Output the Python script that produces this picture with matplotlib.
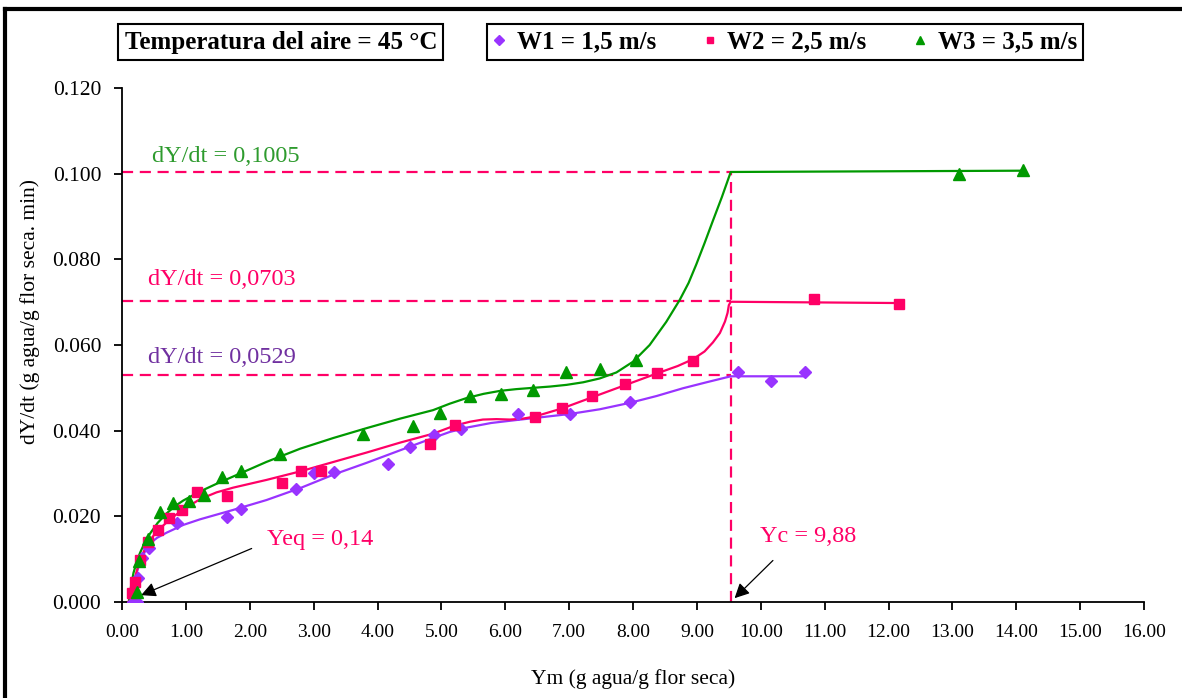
import matplotlib.pyplot as plt
from matplotlib.lines import Line2D
import numpy as np

plt.rcParams['font.family'] = ['Liberation Serif', 'DejaVu Serif']

# measured points (Ym, dY/dt)
w1_x = [0.17, 0.23, 0.25, 0.31, 0.42, 0.86, 1.65, 1.87, 2.72, 3.01, 3.32, 4.17, 4.51, 4.88, 5.30,
        6.20, 7.01, 7.95, 9.64, 10.16, 10.69]
w1_y = [0.000, 0.000, 0.0056, 0.0103, 0.0126, 0.0185, 0.0199, 0.0218, 0.0264, 0.0302, 0.0304, 0.0322,
        0.0363, 0.0390, 0.0403, 0.0438, 0.0438, 0.0468, 0.0536, 0.0515, 0.0536]

w2_x = [0.15, 0.20, 0.28, 0.41, 0.57, 0.74, 0.94, 1.18, 1.65, 2.51, 2.80, 3.11, 4.82, 5.21, 6.46,
        6.89, 7.36, 7.87, 8.38, 8.94, 10.83, 12.17]
w2_y = [0.0020, 0.0047, 0.0098, 0.0141, 0.0168, 0.0196, 0.0214, 0.0257, 0.0247, 0.0277, 0.0306, 0.0306,
        0.0368, 0.0413, 0.0433, 0.0452, 0.0480, 0.0509, 0.0534, 0.0563, 0.0707, 0.0695]

w3_x = [0.24, 0.27, 0.40, 0.60, 0.80, 1.05, 1.29, 1.56, 1.87, 2.47, 3.78, 4.55, 4.98, 5.45, 5.94,
        6.43, 6.95, 7.48, 8.04, 13.10, 14.10]
w3_y = [0.0024, 0.0096, 0.0146, 0.0210, 0.0232, 0.0235, 0.0250, 0.0291, 0.0306, 0.0345, 0.0392, 0.0411,
        0.0441, 0.0481, 0.0485, 0.0494, 0.0538, 0.0544, 0.0565, 0.1000, 0.1009]

# smoothed trend curves
c1_x = [0.11, 0.16, 0.20, 0.25, 0.31, 0.37, 0.44, 0.55, 0.70, 0.96, 1.22, 1.74, 2.26, 2.79, 3.32,
        3.83, 4.35, 4.87, 5.13, 5.39, 5.78, 6.18, 6.60, 7.01, 7.48, 7.95, 8.37, 8.78, 9.15, 9.53, 10.69]
c1_y = [0.0, 0.0028, 0.0051, 0.0078, 0.0102, 0.0121, 0.0137, 0.0150, 0.0162, 0.0180, 0.0193, 0.0215,
        0.0238, 0.0266, 0.0298, 0.0325, 0.0354, 0.0383, 0.0397, 0.0407, 0.0418, 0.0425, 0.0432, 0.0439,
        0.0450, 0.0465, 0.0481, 0.0499, 0.0513, 0.0527, 0.0527]

c2_x = [0.10, 0.14, 0.18, 0.23, 0.28, 0.36, 0.44, 0.56, 0.70, 0.83, 0.96, 1.22, 1.48, 1.74, 2.26,
        2.79, 3.31, 3.83, 4.35, 4.87, 5.21, 5.45, 5.65, 5.86, 6.07, 6.27, 6.46, 6.89, 7.36, 7.87, 8.38,
        8.70, 8.94, 9.12, 9.25, 9.36, 9.44, 9.48, 9.50, 9.53, 12.17]
c2_y = [0.0, 0.0020, 0.0043, 0.0072, 0.0098, 0.0124, 0.0145, 0.0167, 0.0186, 0.0202, 0.0216, 0.0240,
        0.0256, 0.0267, 0.0285, 0.0305, 0.0327, 0.0349, 0.0372, 0.0393, 0.0412, 0.0421, 0.0426, 0.0427,
        0.0426, 0.0428, 0.0433, 0.0452, 0.0478, 0.0506, 0.0534, 0.0551, 0.0567, 0.0585, 0.0606, 0.0628,
        0.0655, 0.0675, 0.0693, 0.0701, 0.0698]

c3_x = [0.11, 0.14, 0.18, 0.23, 0.28, 0.36, 0.44, 0.56, 0.70, 0.83, 0.96, 1.22, 1.48, 1.74, 2.26,
        2.79, 3.31, 3.83, 4.35, 4.87, 5.13, 5.39, 5.66, 5.92, 6.17, 6.43, 6.70, 6.96, 7.22, 7.48, 7.74,
        8.00, 8.26, 8.52, 8.73, 8.87, 8.99, 9.12, 9.25, 9.39, 9.53, 14.10]
c3_y = [0.0, 0.0035, 0.0068, 0.0093, 0.0114, 0.0140, 0.0160, 0.0185, 0.0207, 0.0224, 0.0237, 0.0258,
        0.0276, 0.0293, 0.0327, 0.0358, 0.0383, 0.0406, 0.0428, 0.0448, 0.0463, 0.0476, 0.0486, 0.0493,
        0.0497, 0.0500, 0.0503, 0.0507, 0.0513, 0.0522, 0.0536, 0.0561, 0.0600, 0.0654, 0.0705, 0.0745,
        0.0788, 0.0838, 0.0890, 0.0945, 0.1004, 0.1007]

labels = ['W1 = 1,5 m/s', 'W2 = 2,5 m/s', 'W3 = 3,5 m/s']
rates = [0.0529, 0.0703, 0.1005]
rate_labels = ['dY/dt = 0,0529', 'dY/dt = 0,0703', 'dY/dt = 0,1005']
yc = 9.53

purple = '#9933FF'
pink = '#FF0066'
green = '#009900'

fig = plt.figure(figsize=(11.82, 6.98), dpi=100)
ax = fig.add_axes([0.1032, 0.1375, 0.8647, 0.7364])

# trend lines
ax.plot(c1_x, c1_y, color=purple, lw=1.6, zorder=3)
ax.plot(c2_x, c2_y, color=pink, lw=1.6, zorder=3)
ax.plot(c3_x, c3_y, color=green, lw=1.6, zorder=3)

# points
ax.plot(w1_x, w1_y, 'D', color=purple, ms=6, ls='none', zorder=4)
ax.plot(w2_x, w2_y, 's', color=pink, ms=6.5, ls='none', zorder=4)
ax.plot(w3_x, w3_y, '^', color=green, ms=8, ls='none', zorder=4)

# reference dashed lines
for r in rates:
    ax.plot([0, yc], [r, r], color=pink, lw=1.6, ls=(0, (5, 3)), zorder=2)
ax.plot([yc, yc], [0, rates[-1]], color=pink, lw=1.6, ls=(0, (5, 3)), zorder=2)

ax.text(0.47, 0.1039, rate_labels[2], color='#2E9B2E', fontsize=17.5, va='center')
ax.text(0.41, 0.0752, rate_labels[1], color=pink, fontsize=17.5, va='center')
ax.text(0.41, 0.0572, rate_labels[0], color='#7030A0', fontsize=17.5, va='center')

ax.text(2.27, 0.0145, 'Yeq = 0,14', color=pink, fontsize=17.5, va='center')
ax.text(9.98, 0.0152, 'Yc = 9,88', color=pink, fontsize=17.5, va='center')

arrow = dict(arrowstyle='-|>', color='black', lw=0.9, mutation_scale=22, shrinkA=0, shrinkB=0)
ax.annotate('', xy=(0.30, 0.0016), xytext=(2.03, 0.0125), arrowprops=arrow)
ax.annotate('', xy=(9.59, 0.0009), xytext=(10.19, 0.0097), arrowprops=arrow)

ax.set_xlim(0, 16)
ax.set_ylim(0, 0.12)
ax.set_xticks(np.arange(0, 17, 1))
ax.set_yticks(np.arange(0, 0.121, 0.02))
ax.set_xticklabels([f'{v:.2f}' for v in np.arange(0, 17, 1)])
ax.set_yticklabels([f'{v:.3f}' for v in np.arange(0, 0.121, 0.02)])
ax.tick_params(axis='both', direction='out', length=6, width=1.3, color='black')
ax.tick_params(axis='x', labelsize=14, pad=10)
ax.tick_params(axis='y', labelsize=15.5, pad=9)
for s in ['top', 'right']:
    ax.spines[s].set_visible(False)
for s in ['left', 'bottom']:
    ax.spines[s].set_linewidth(1.3)

ax.set_xlabel('Ym (g agua/g flor seca)', fontsize=15.5, labelpad=20)
ax.set_ylabel('dY/dt (g agua/g flor seca. min)', fontsize=15.5)
ax.yaxis.set_label_coords(-0.080, 0.566)

# title box and legend box
fig.text(0.2377, 0.9398, 'Temperatura del aire = 45 °C', fontsize=18, fontweight='bold',
         ha='center', va='center',
         bbox=dict(boxstyle='square,pad=0.25', fc='white', ec='black', lw=1.5))

handles = [Line2D([], [], marker='D', color=purple, ls='none', ms=5),
           Line2D([], [], marker='s', color=pink, ls='none', ms=5),
           Line2D([], [], marker='^', color=green, ls='none', ms=6)]
leg = fig.legend(handles, labels, loc='center', bbox_to_anchor=(0.664, 0.9398), ncol=3,
                 frameon=True, fancybox=False, edgecolor='black', framealpha=1,
                 prop={'weight': 'bold', 'size': 18}, handlelength=0.5, handletextpad=0.45,
                 columnspacing=1.9, borderpad=0.25, borderaxespad=0)
leg.get_frame().set_linewidth(1.5)

# outer frame (top and left edges visible)
fig.add_artist(Line2D([0.004, 1.0], [0.987, 0.987], color='black', lw=3, transform=fig.transFigure))
fig.add_artist(Line2D([0.004, 0.004], [0.0, 0.987], color='black', lw=3, transform=fig.transFigure))

fig.savefig('out.png', dpi=100)
